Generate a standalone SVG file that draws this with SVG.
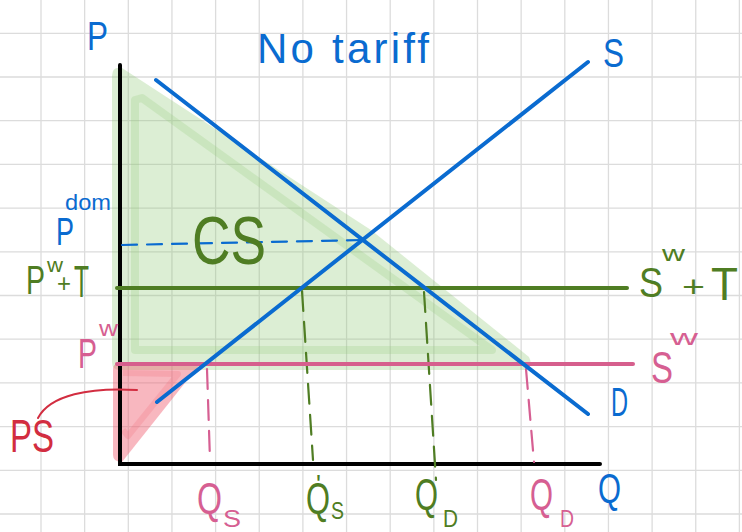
<svg xmlns="http://www.w3.org/2000/svg" width="742" height="532" viewBox="0 0 742 532">
<style>
text{font-family:"Liberation Sans","DejaVu Sans",sans-serif;}
.blue{fill:#0a6bd0}.green{fill:#4f7d23}.pink{fill:#d65f92}.red{fill:#d22d40}
.grid{stroke:#dcdcdc;stroke-width:1.3;fill:none}
.ln{fill:none;stroke-width:4;stroke-linecap:round}
.dash{fill:none;stroke-width:2.2;stroke-linecap:round}
</style>
<rect width="742" height="532" fill="#ffffff"/>
<g id="grid">
<path class="grid" d="M41,0V532M84.65,0V532M128.3,0V532M171.95,0V532M215.6,0V532M259.25,0V532M302.9,0V532M346.55,0V532M390.2,0V532M433.85,0V532M477.5,0V532M521.15,0V532M564.8,0V532M608.45,0V532M652.1,0V532M695.75,0V532M739.4,0V532M0,33.3H742M0,77H742M0,120.7H742M0,164.4H742M0,208.1H742M0,251.8H742M0,295.5H742M0,339.2H742M0,382.9H742M0,426.6H742M0,470.3H742M0,514H742"/>
</g>
<g id="cs-area">
<path d="M112,76 Q112,66 122,68 L371,230 L529,357 Q534,367 524,370 L120,370 Q112,370 112,362 Z" fill="#8cc870" fill-opacity="0.3"/>
<path d="M135,100 L135,350 L492,350 L142,98 Z" fill="none" stroke="#8cc870" stroke-opacity="0.22" stroke-width="8" stroke-linejoin="round"/>
</g>
<g id="ps-area">
<path d="M113,369 Q113,364 118,364 L200,364 L122,462 Q113,462 113,455 Z" fill="#f06070" fill-opacity="0.45"/>
<path d="M123,373 L178,374 L128,436 L123,430" fill="none" stroke="#f06070" stroke-opacity="0.2" stroke-width="6" stroke-linejoin="round"/>
</g>
<g id="axes">
<path class="ln" stroke="#000" d="M120,65 V464 H600"/>
</g>
<g id="connectors">
<path class="dash" stroke="#0a6bd0" stroke-dasharray="15,10" d="M122,245 L363,240"/>
<path class="dash" stroke="#4f7d23" stroke-dasharray="20,11" d="M302,291 L313,460"/>
<path class="dash" stroke="#4f7d23" stroke-dasharray="20,11" d="M424,292 L436,480"/>
<path class="dash" stroke="#d65f92" stroke-dasharray="20,11" d="M207,369 L210,460"/>
<path class="dash" stroke="#d65f92" stroke-dasharray="20,11" d="M526,369 L534,462"/>
<path fill="none" stroke="#d22d40" stroke-width="2" stroke-linecap="round" d="M137,390 C90,387 50,395 38,418"/>
</g>
<g id="line-pw-t">
<path class="ln" stroke="#4f7d23" d="M117,288 H627"/>
</g>
<g id="line-pw">
<path class="ln" stroke="#d65f8d" d="M117,364 H633"/>
</g>
<g id="curve-S">
<path class="ln" stroke="#0a6bd0" d="M157,402 L588,62"/>
</g>
<g id="curve-D">
<path class="ln" stroke="#0a6bd0" d="M156,80 L588,414"/>
</g>
<g id="labels">
<text class="blue" x="87" y="50" font-size="40" textLength="21" lengthAdjust="spacingAndGlyphs">P</text>
<text class="blue" x="257" y="63" font-size="42" textLength="172" lengthAdjust="spacing">No tariff</text>
<text class="blue" x="603" y="67" font-size="40" textLength="21" lengthAdjust="spacingAndGlyphs">S</text>
<text class="blue" x="56" y="245" font-size="38" textLength="18" lengthAdjust="spacingAndGlyphs">P</text>
<text class="blue" x="65" y="210" font-size="22" textLength="46" lengthAdjust="spacingAndGlyphs">dom</text>
<text class="green" x="192" y="264" font-size="68" textLength="74" lengthAdjust="spacingAndGlyphs">CS</text>
<text class="green" x="26" y="294" font-size="40" textLength="19" lengthAdjust="spacingAndGlyphs">P</text>
<text class="green" x="47" y="272" font-size="20" textLength="16" lengthAdjust="spacingAndGlyphs">w</text>
<text class="green" x="57" y="292" font-size="26" textLength="14" lengthAdjust="spacingAndGlyphs">+</text>
<text class="green" x="74" y="297" font-size="44" textLength="15" lengthAdjust="spacingAndGlyphs">T</text>
<text class="green" x="639" y="297" font-size="42" textLength="24" lengthAdjust="spacingAndGlyphs">S</text>
<text class="green" x="662" y="261" font-size="22" textLength="23" lengthAdjust="spacingAndGlyphs">w</text>
<text class="green" x="682" y="297" font-size="30" textLength="23" lengthAdjust="spacingAndGlyphs">+</text>
<text class="green" x="711" y="300" font-size="46" textLength="27" lengthAdjust="spacingAndGlyphs">T</text>
<text class="pink" x="78" y="368" font-size="42" textLength="19" lengthAdjust="spacingAndGlyphs">P</text>
<text class="pink" x="99" y="336" font-size="22" textLength="19" lengthAdjust="spacingAndGlyphs">w</text>
<text class="pink" x="651" y="383" font-size="44" textLength="22" lengthAdjust="spacingAndGlyphs">S</text>
<text class="pink" x="670" y="345" font-size="22" textLength="28" lengthAdjust="spacingAndGlyphs">w</text>
<text class="blue" x="611" y="416" font-size="40" textLength="17" lengthAdjust="spacingAndGlyphs">D</text>
<text class="red" x="10" y="452" font-size="46" textLength="44" lengthAdjust="spacingAndGlyphs">PS</text>
<text class="blue" x="598" y="503" font-size="42" textLength="23" lengthAdjust="spacingAndGlyphs">Q</text>
<text class="pink" x="197" y="514" font-size="44" textLength="25" lengthAdjust="spacingAndGlyphs">Q</text>
<text class="pink" x="223" y="527" font-size="24" textLength="18" lengthAdjust="spacingAndGlyphs">S</text>
<text class="green" x="306" y="514" font-size="44" textLength="24" lengthAdjust="spacingAndGlyphs">Q</text>
<text class="green" x="316" y="493" font-size="26">'</text>
<text class="green" x="331" y="519" font-size="24" textLength="13" lengthAdjust="spacingAndGlyphs">S</text>
<text class="green" x="415" y="510" font-size="44" textLength="23" lengthAdjust="spacingAndGlyphs">Q</text>
<text class="green" x="443" y="527" font-size="24" textLength="15" lengthAdjust="spacingAndGlyphs">D</text>
<text class="pink" x="530" y="510" font-size="44" textLength="23" lengthAdjust="spacingAndGlyphs">Q</text>
<text class="pink" x="560" y="527" font-size="24" textLength="14" lengthAdjust="spacingAndGlyphs">D</text>
</g>
</svg>
